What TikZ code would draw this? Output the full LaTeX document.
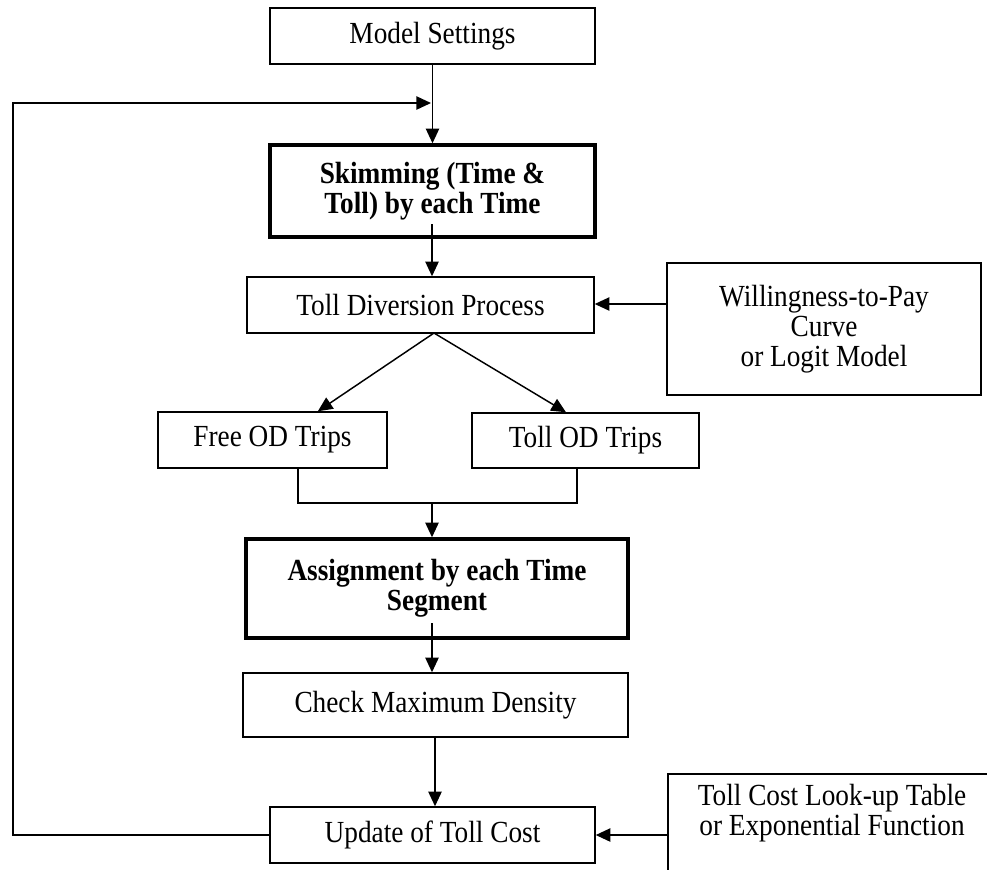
\documentclass[tikz,border=0pt]{standalone}
\usepackage{fontspec}
\setmainfont{Liberation Serif}[FakeStretch=0.89]
\usetikzlibrary{arrows.meta,calc}
\begin{document}
\begin{tikzpicture}[x=0.75pt,y=-0.75pt,
  box/.style={draw, line width=1.1pt, align=center, inner sep=0pt, font=\fontsize{23}{22.5}\selectfont},
  bbox/.style={box, line width=2.6pt, font=\fontsize{23}{22.5}\selectfont\bfseries},
  plain/.style={align=center, inner sep=0pt, font=\fontsize{23}{22.5}\selectfont},
  arr/.style={line width=1.1pt, -{Triangle[length=11pt,width=10pt]}},
  ln/.style={line width=1.1pt}]
\useasboundingbox (0,0) rectangle (987,869);
\clip (0,0) rectangle (987,869);

\node[box, minimum width=243.75pt, minimum height=42pt] (ms) at (432.5,36) {Model Settings};
\node[bbox, minimum width=243.75pt, minimum height=69pt] (sk) at (432.5,191) {Skimming (Time \&\\Toll) by each Time};
\node[box, minimum width=260.25pt, minimum height=42pt] (td) at (420.5,305) {Toll Diversion Process};
\node[box, minimum width=235.5pt, minimum height=99pt] (wtp) at (824,329) {Willingness-to-Pay\\Curve\\or Logit Model};
\node[box, minimum width=171.75pt, minimum height=42pt] (fr) at (272.5,440) {Free OD Trips};
\node[box, minimum width=170.25pt, minimum height=41.25pt] (to) at (585.5,440.5) {Toll OD Trips};
\node[bbox, minimum width=286.5pt, minimum height=74.25pt] (as) at (437,588.5) {Assignment by each Time\\Segment};
\node[box, minimum width=288.75pt, minimum height=48pt] (ck) at (435.5,705) {Check Maximum Density};
\node[box, minimum width=243.75pt, minimum height=42pt] (up) at (432.5,835) {Update of Toll Cost};
\node[plain] (lk) at (832,813) {Toll Cost Look-up Table\\or Exponential Function};

% partial frame of the look-up box (cut by the picture edge)
\coordinate (lkc) at (668,774);
\draw[ln] (668,900) -- (lkc) -- (1000,774);

% main chain
\draw[arr] (ms.south) -- (sk.north);
\coordinate (fb) at (13,103);
\coordinate (join) at (431,103);
\draw[arr] (up.west) -| (fb) -- (join);

\coordinate (s1) at (432,224);
\draw[arr] (s1) -- (s1 |- td.north);

\draw[arr] (wtp.west |- 0,304) -- (td.east |- 0,304);

\coordinate (d0) at (434,333);
\draw[arr] (d0) -- ([xshift=34pt]fr.north);
\draw[arr] (d0) -- ([xshift=-14.6pt]to.north);

\coordinate (mg) at (432,503);
\draw[ln] ([xshift=19pt]fr.south) |- (mg) -| ([xshift=-6.4pt]to.south);
\draw[arr] (mg) -- (mg |- as.north);

\coordinate (a1) at (432,623);
\draw[arr] (a1) -- (a1 |- ck.north);

\coordinate (c1) at (435,737);
\draw[arr] (c1) -- (c1 |- up.north);

\draw[arr] (lkc |- up.east) -- (up.east);
\end{tikzpicture}
\end{document}
